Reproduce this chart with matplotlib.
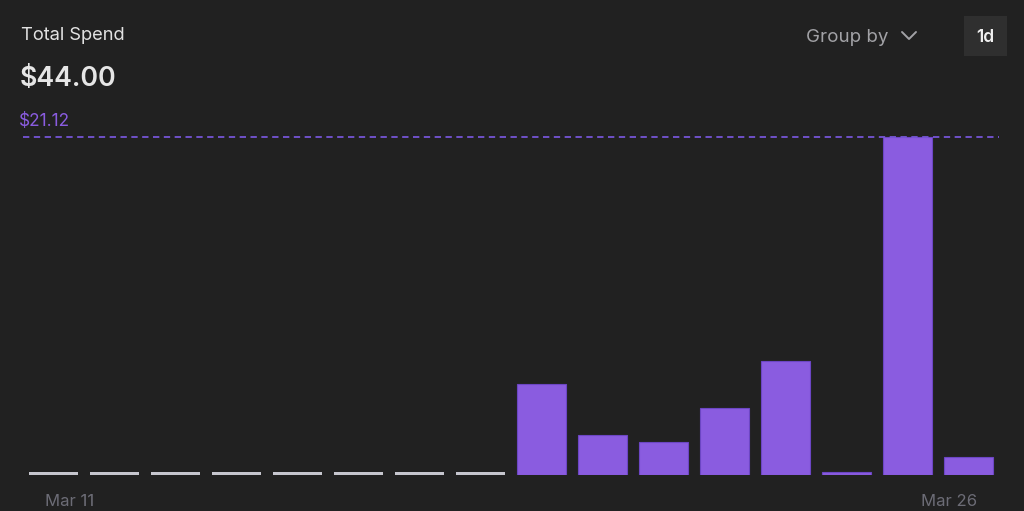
import numpy as np
import matplotlib.pyplot as plt
from matplotlib.lines import Line2D
from matplotlib.patches import Rectangle

# daily spend, Mar 11 .. Mar 26
days = ["Mar 11", "Mar 12", "Mar 13", "Mar 14", "Mar 15", "Mar 16", "Mar 17", "Mar 18",
        "Mar 19", "Mar 20", "Mar 21", "Mar 22", "Mar 23", "Mar 24", "Mar 25", "Mar 26"]
spend = [0, 0, 0, 0, 0, 0, 0, 0,
         5.70, 2.50, 2.08, 4.20, 7.12, 0.16, 21.12, 1.12]
total_label = "$44.00"
tick_days = ["Mar 11", "Mar 26"]

BG = "#212121"
PURPLE = "#8a5ce0"
PURPLE_EDGE = "#6c46c4"
STUB = "#c6c6ce"

plt.rcParams['font.family'] = ['Inter', 'DejaVu Sans']

W, H = 1024, 511
fig = plt.figure(figsize=(W / 100, H / 100), dpi=100, facecolor=BG)

# axes placed in pixel terms: x 23..999, baseline y=475, top y=130
ax = fig.add_axes([23 / W, (H - 475) / H, 976 / W, 345 / H])
ax.set_facecolor(BG)

x = np.arange(len(days))
vals = np.array(spend)
peak = vals.max()
px_per_unit = (475 - 137) / peak
ax.set_xlim(-0.5, len(days) - 0.5)
ax.set_ylim(0, 345 / px_per_unit)

nonzero = vals > 0
ax.bar(x[nonzero], vals[nonzero], width=0.787, color=PURPLE,
       edgecolor=PURPLE_EDGE, linewidth=0.8)
# empty days shown as a thin grey stub
stub_h = 3 / px_per_unit
ax.bar(x[~nonzero], np.full((~nonzero).sum(), stub_h), width=0.787, color=STUB, linewidth=0)

# max line
ax.axhline(peak, color="#7655d6", linestyle=(0, (3.5, 2.5)), linewidth=1.3, clip_on=False)

for s in ax.spines.values():
    s.set_visible(False)
ax.set_xticks([])
ax.set_yticks([])

# date labels under first / last bar
i0 = days.index(tick_days[0])
i1 = days.index(tick_days[1])
ax.annotate(tick_days[0], (x[i0], 0), xytext=(-6, -19), textcoords="offset points",
            ha="left", va="center", color="#6c6c76", fontsize=12)
ax.annotate(tick_days[1], (x[i1], 0), xytext=(6, -19), textcoords="offset points",
            ha="right", va="center", color="#6c6c76", fontsize=12)

# header texts
fig.text(21 / W, 1 - 35 / H, "Total Spend", color="#e2e2e2", fontsize=13.2,
         ha="left", va="center")
fig.text(20 / W, 1 - 79 / H, total_label, color="#e6e6e6", fontsize=19.3,
         fontweight="semibold", ha="left", va="center")
fig.text(19 / W, 1 - 121 / H, f"${peak:.2f}", color="#8a5ce0", fontsize=12.4,
         ha="left", va="center")

fig.text(806 / W, 1 - 38 / H, "Group by", color="#a2a2a6", fontsize=13.5,
         ha="left", va="center")
fig.add_artist(Line2D([902 / W, 909 / W, 916 / W],
                      [1 - 32 / H, 1 - 39 / H, 1 - 32 / H],
                      color="#a2a2a6", linewidth=1.4, solid_capstyle="round"))

fig.add_artist(Rectangle((964 / W, 1 - 56 / H), 43 / W, 40 / H,
                         transform=fig.transFigure, facecolor="#2f2f2f", edgecolor="none"))
fig.text(985.5 / W, 1 - 37 / H, "1d", color="#f0f0f0", fontsize=12.5,
         fontweight="semibold", ha="center", va="center")

fig.savefig("out.png", dpi=100, facecolor=BG)
